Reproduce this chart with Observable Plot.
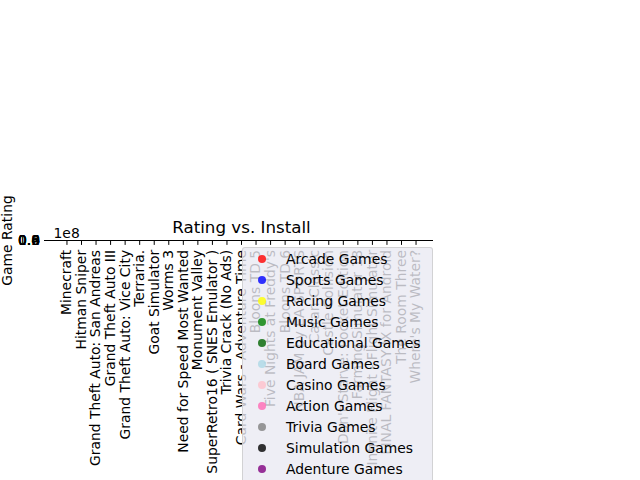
<!DOCTYPE html>
<html><head><meta charset="utf-8">
<script src="https://cdn.jsdelivr.net/npm/d3@7"></script>
<script src="https://cdn.jsdelivr.net/npm/@observablehq/plot@0.6"></script>
<style>
html,body{margin:0;padding:0;background:#fff;overflow:hidden;width:640px;height:480px;}
#wrap{position:relative;width:640px;height:480px;font-family:"DejaVu Sans",sans-serif;}
#wrap svg{position:absolute;left:0;top:0;}
#legend{position:absolute;left:242px;top:247px;width:191px;height:260px;background:rgba(234,234,242,0.8);border:1px solid rgba(204,204,204,0.8);border-radius:3px;box-sizing:border-box;padding-top:0.5px;}
.item{height:21px;display:flex;align-items:center;font-size:13.9px;color:#000;white-space:nowrap;}
.dot{width:8.5px;height:8.5px;border-radius:50%;margin-left:14.75px;margin-right:19.75px;opacity:0.8;flex:none;}
</style></head><body><div id="wrap"></div>
<script>
const games = [
  "Minecraft", "Hitman Sniper", "Grand Theft Auto: San Andreas", "Grand Theft Auto III",
  "Grand Theft Auto: Vice City", "Terraria.", "Goat Simulator", "Worms 3",
  "Need for Speed Most Wanted", "Monument Valley", "SuperRetro16 ( SNES Emulator )",
  "Trivia Crack (No Ads)", "Card Wars - Adventure Time", "Bloons TD 5",
  "Five Nights at Freddy's", "Bloons TD 6", "NBA JAM by EA SPORTS", "Catan Classic",
  "Castle Collision", "Don't Starve: Pocket Edition", "Farming Simulator 18",
  "Infinite Flight - Flight Simulator", "FINAL FANTASY IX for Android",
  "The Room Three", "Where's My Water?"
];
const genres = [
  "Arcade Games", "Sports Games", "Racing Games", "Music Games", "Educational Games",
  "Board Games", "Casino Games", "Action Games", "Trivia Games", "Simulation Games",
  "Adenture Games"
];
const genreColors = [
  "red", "blue", "yellow", "green", "darkgreen", "lightblue", "pink", "hotpink",
  "gray", "black", "purple"
];
const yTicks = [0, 0.2, 0.4, 0.6, 0.8, 1.0];
const titleText = "Rating vs. Install";
const yLabel = "Game Rating";
const offsetText = "1e8";

const chart = Plot.plot({
  width: 640, height: 480,
  marginLeft: 49, marginRight: 207, marginTop: 240, marginBottom: 240,
  style: {fontFamily: '"DejaVu Sans", sans-serif', fontSize: "13.9px", color: "#000", background: "transparent", overflow: "visible"},
  x: {type: "point", domain: games, padding: 1.2, round: false},
  y: {domain: [0, 1]},
  marks: [
    Plot.ruleY([0], {stroke: "#000", strokeWidth: 1}),
    Plot.axisX({tickRotate: -90, tickSize: 4.9, tickPadding: 4.5, label: null, fontSize: 13.9}),
    Plot.axisY({ticks: yTicks, tickFormat: ".1f", tickSize: 4.9, tickPadding: 4.5, label: yLabel, labelAnchor: "center", labelOffset: 47, labelArrow: "none", fontSize: 13.9}),
    Plot.text([titleText], {frameAnchor: "top", lineAnchor: "bottom", dy: -8, fontSize: 16.7}),
    Plot.text([offsetText], {frameAnchor: "top-left", textAnchor: "start", lineAnchor: "bottom", dx: 4, dy: -3, fontSize: 13.9})
  ]
});
const wrap = document.getElementById("wrap");
wrap.appendChild(chart);

const legend = document.createElement("div");
legend.id = "legend";
genres.forEach((g, i) => {
  const item = document.createElement("div");
  item.className = "item";
  const dot = document.createElement("span");
  dot.className = "dot";
  dot.style.background = genreColors[i];
  const lab = document.createElement("span");
  lab.textContent = g;
  item.appendChild(dot);
  item.appendChild(lab);
  legend.appendChild(item);
});
wrap.appendChild(legend);
</script>
</body></html>
